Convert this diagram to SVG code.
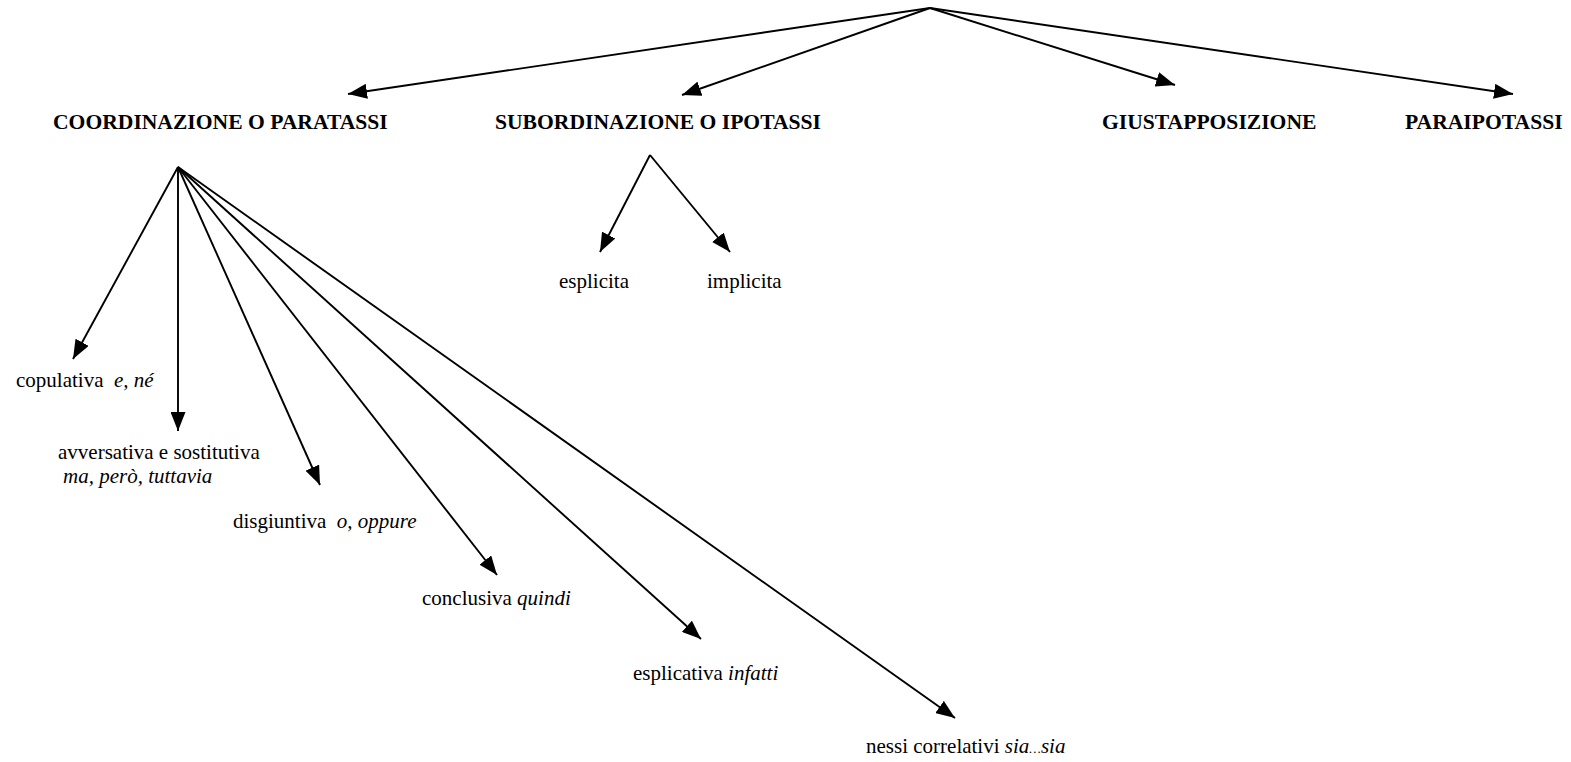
<svg xmlns="http://www.w3.org/2000/svg" width="1571" height="762" viewBox="0 0 1571 762">
<style>
text{font-family:"Liberation Serif","Times New Roman",serif;font-size:21px;fill:#000}
.b{font-weight:bold;font-size:21.6px}
.i{font-style:italic}
.c line{stroke:#000;stroke-width:1.9;marker-end:url(#ah)}
</style>
<defs>
<marker id="ah" markerUnits="userSpaceOnUse" markerWidth="19" markerHeight="15" refX="19" refY="7.5" orient="auto">
<path d="M0,0 L19,7.5 L0,15 z" fill="#000"/>
</marker>
</defs>
<rect width="1571" height="762" fill="#fff"/>
<g id="connectors" class="c">
<line x1="930" y1="8" x2="348" y2="94"/>
<line x1="930" y1="8" x2="682" y2="95"/>
<line x1="930" y1="8" x2="1175" y2="85"/>
<line x1="930" y1="8" x2="1513" y2="94"/>
<line x1="650" y1="155" x2="600" y2="252"/>
<line x1="650" y1="155" x2="730" y2="252"/>
<line x1="178" y1="167" x2="73" y2="359"/>
<line x1="178" y1="167" x2="178" y2="431"/>
<line x1="178" y1="167" x2="320" y2="485"/>
<line x1="178" y1="167" x2="497" y2="575"/>
<line x1="178" y1="167" x2="701" y2="639"/>
<line x1="178" y1="167" x2="955" y2="718"/>
</g>
<g id="coordinazione"><text class="b" x="53" y="129">COORDINAZIONE O PARATASSI</text></g>
<g id="subordinazione"><text class="b" x="495" y="129">SUBORDINAZIONE O IPOTASSI</text></g>
<g id="giustapposizione"><text class="b" x="1102" y="129">GIUSTAPPOSIZIONE</text></g>
<g id="paraipotassi"><text class="b" x="1405" y="129">PARAIPOTASSI</text></g>
<g id="esplicita"><text x="559" y="288">esplicita</text></g>
<g id="implicita"><text x="707" y="288">implicita</text></g>
<g id="copulativa"><text x="16" y="387" xml:space="preserve">copulativa  <tspan class="i">e, né</tspan></text></g>
<g id="avversativa"><text x="58" y="459">avversativa e sostitutiva</text><text class="i" x="63" y="483">ma, però, tuttavia</text></g>
<g id="disgiuntiva"><text x="233" y="528" xml:space="preserve">disgiuntiva  <tspan class="i">o, oppure</tspan></text></g>
<g id="conclusiva"><text x="422" y="605">conclusiva <tspan class="i">quindi</tspan></text></g>
<g id="esplicativa"><text x="633" y="680">esplicativa <tspan class="i">infatti</tspan></text></g>
<g id="nessi"><text x="866" y="753">nessi correlativi <tspan class="i">sia<tspan font-size="13">…</tspan>sia</tspan></text></g>
</svg>
